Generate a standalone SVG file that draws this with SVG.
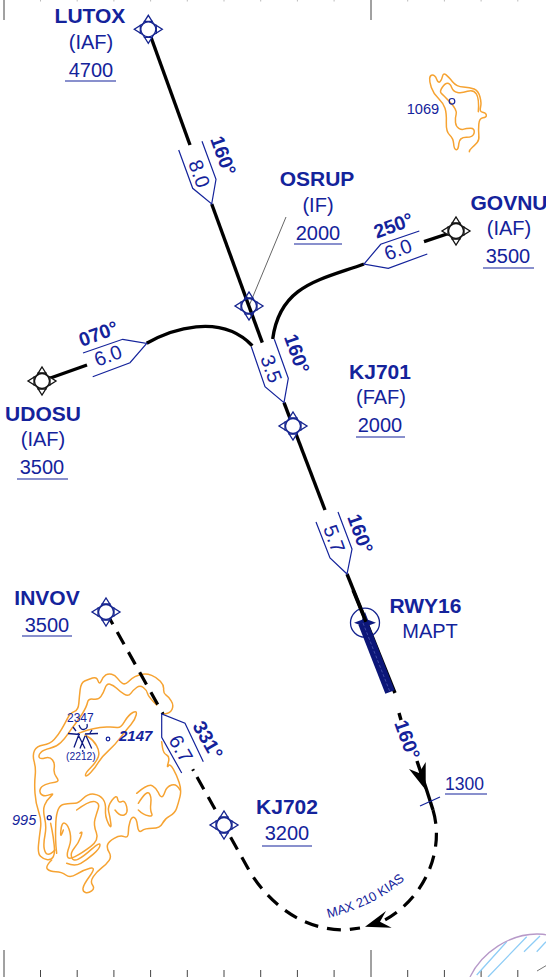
<svg xmlns="http://www.w3.org/2000/svg" width="546" height="977" viewBox="0 0 546 977">
<style>
text{font-family:"Liberation Sans",Arial,sans-serif;fill:#14239b}
.b{font-weight:bold;font-size:21px;text-anchor:middle}
.n{font-size:20px;text-anchor:middle}
.ab{font-weight:bold;font-size:19.500px}
.d{font-size:20px}
.u{stroke:#14239b;stroke-width:1.2;fill:none}
.box{stroke:#14239b;stroke-width:1.2;fill:none;stroke-linejoin:miter}
.leg{stroke:#000;stroke-width:3.4;fill:none}
.dash{stroke:#000;stroke-width:3.2;fill:none;stroke-dasharray:14 9}
.or{stroke:#f6a332;stroke-width:4.5;fill:none;stroke-linejoin:round;stroke-linecap:round}
.tick{stroke:#444;stroke-width:1}
.ttick{stroke:#bbb;stroke-width:1}
.hatch{stroke:#8fcdf6;stroke-width:1.3;fill:none}
.fix{fill:#fff;stroke:#14238f;stroke-width:1.3}
.fixk{fill:#fff;stroke:#111;stroke-width:1.3}
</style>
<defs>
<g id="flyby"><path d="M-5.4,-5.400 L0,-14 L5.400,-5.400 L14,0 L5.400,5.400 L0,14 L-5.400,5.400 L-14,0 Z"/><path d="M-4.500,-8 H4.500 M8,-4.500 V4.500 M-4.500,8 H4.500 M-8,-4.500 V4.500" fill="none"/><circle r="7.500"/></g>
</defs>
<g id="ticks">
<path class="tick" d="M4,0V20M371,0V20M4,950V977M371,950V977M40.500,970V977M77.200,970V977M113.900,970V977M150.600,970V977M187.300,970V977M224,970V977M260.700,970V977M297.400,970V977M334.100,970V977M407.700,970V977M444.400,970V977M481.100,970V977M517.800,970V977"/>
<path class="ttick" d="M40.500,0V1.500M77.200,0V1.500M113.900,0V1.500M150.600,0V1.500M187.300,0V1.500M224,0V1.500M260.700,0V1.500M297.400,0V1.500M334.100,0V1.500M407.700,0V1.500M444.400,0V1.500M481.100,0V1.500M517.800,0V1.500"/>
</g>
<g id="terrain-west" transform="translate(0,640) scale(0.3333)">
<path class="or" d="M487,222 Q510,222 516,208.500 Q522,195 513.500,182.500 Q505,170 497.500,165 Q490,160 491,147.500 Q492,135 481,123.500 Q470,112 455,106 Q440,100 427.500,102.500 Q415,105 405,110 Q395,115 385,125 Q375,135 367.500,130 Q360,125 352.500,115 Q345,105 335,102.500 Q325,100 317.500,105 Q310,110 304,122.500 Q298,135 294,122.500 Q290,110 277.500,114 Q265,118 254,123 Q243,128 240.500,149 Q238,170 236.500,190 Q235,210 222.500,215 Q210,220 202.500,235 Q195,250 185,267.500 Q175,285 162.500,298.500 Q150,312 130,315 Q110,318 103.500,331.500 Q97,345 102.500,365 Q108,385 105.500,407.500 Q103,430 105,460 Q107,490 116,515 Q125,540 121.500,565 Q118,590 115.500,615 Q113,640 121.500,649 Q130,658 142.500,659 Q155,660 160,650 Q165,640 162.500,615 Q160,590 156,570 L152,550"/>
<path class="or" d="M470,195 Q445,170 442.500,160 Q440,150 430,142.500 Q420,135 410,142.500 Q400,150 392.500,160 Q385,170 372.500,162.500 Q360,155 350,145 Q340,135 330,132.500 Q320,130 315,145 Q310,160 302.500,170 Q295,180 280,177.500 Q265,175 262.500,187.500 Q260,200 247.500,220 Q235,240 225,252.500 Q215,265 205,280 Q195,295 182.500,307.500 Q170,320 150,325 Q130,330 122.500,337.500 Q115,345 117.500,351.500 Q120,358 135,354 Q150,350 157.500,360 Q165,370 162.500,385 Q160,400 170,412.500 Q180,425 165,426.500 Q150,428 136,434 Q122,440 120,450 Q118,460 126.500,465 Q135,470 150,464 Q165,458 152.500,469 Q140,480 134,495 Q128,510 134,535 Q140,560 135,585 Q130,610 132.500,625 Q135,640 142.500,642.500 Q150,645 165,630"/>
<path class="or" d="M155,660 Q135,680 142.500,687.500 Q150,695 167.500,695 Q185,695 197.500,705 Q210,715 230,702.500 Q250,690 270,685 Q290,680 270,707.500 Q250,735 249,745 Q248,755 256.500,757.500 Q265,760 275,752.500 Q285,745 277.500,735 Q270,725 280,710 Q290,695 305,683.500 Q320,672 327.500,661 Q335,650 327.500,637.500 Q320,625 322.500,615 Q325,605 342.500,595 Q360,585 372.500,590 Q385,595 385,577.500 Q385,560 390,545 Q395,530 402.500,532.500 Q410,535 412.500,557.500 Q415,580 425,572.500 Q435,565 457.500,565 Q480,565 487.500,550 Q495,535 510,527.500 Q525,520 530,505 Q535,490 540,470 Q545,450 537.500,427.500 Q530,405 520,387.500 Q510,370 505,377.500 Q500,385 505,367.500 Q510,350 500,345 Q490,340 487.500,322.500 L485,305"/>
<path class="or" d="M235,280 Q260,270 280,266 Q300,262 320,261 Q340,260 351,262.500 Q362,265 373.500,245 Q385,225 398.500,217.500 Q412,210 408.500,225 Q405,240 392.500,254 Q380,268 362.500,291.500 Q345,315 325,332.500 Q305,350 295,367.500 Q285,385 271.500,398.500 Q258,412 256.500,406 Q255,400 272.500,382.500 Q290,365 295,350 Q300,335 290,317.500 Q280,300 267.500,292.500 L255,285"/>
<path class="or" d="M170,640 Q165,600 167.500,547.500 Q170,495 192.500,492.500 Q215,490 225,490 Q235,490 250,475 Q265,460 282.500,462.500 Q300,465 309,477.500 Q318,490 316.500,510 Q315,530 325,550 Q335,570 332.500,550 Q330,530 326,515 Q322,500 336,481 Q350,462 352.500,476 Q355,490 365,485 Q375,480 380,500 Q385,520 372.500,525 Q360,530 345,510"/>
<path class="or" d="M230,510 Q270,480 285,485 Q300,490 295,505 Q290,520 285,537.500 Q280,555 289,577.500 Q298,600 271.500,620 Q245,640 225,650 Q205,660 202.500,650 Q200,640 207.500,620 Q215,600 210,577.500 Q205,555 195,550 Q185,545 182.500,572.500 Q180,600 190,570"/>
<path class="or" d="M240,580 Q250,570 242.500,590 Q235,610 222.500,625 Q210,640 215,652.500 Q220,665 235,657.500 Q250,650 275,627.500 Q300,605 300,615 Q300,625 280,642.500 Q260,660 242.500,670 Q225,680 200,670"/>
<path class="or" d="M410,460 Q445,430 457.500,437.500 Q470,445 475,457.500 Q480,470 485,470 Q490,470 495,455 Q500,440 515,435 Q530,430 540,450 M415,490 Q440,450 447.500,460 Q455,470 452.500,490 Q450,510 455,520 Q460,530 445,527.500 Q430,525 415,510"/>
</g>
<g id="terrain-east" transform="translate(380,60) scale(0.3333)">
<path class="or" d="M268,275 Q268,270 276.500,262.500 Q285,255 291.500,247.500 Q298,240 296.500,225 Q295,210 296.500,192.500 Q298,175 309,173.500 Q320,172 319,165 Q318,158 308,156.500 Q298,155 301.500,142.500 Q305,130 300,111 Q295,92 282.500,87 Q270,82 250,81 Q230,80 217.500,65 Q205,50 197.500,44 Q190,38 187.500,49 Q185,60 180,65 Q175,70 170,57.500 Q165,45 157.500,45 Q150,45 149,55 Q148,65 154,82.500 Q160,100 175,115 Q190,130 195,145 Q200,160 199,187.500 Q198,215 209,225 Q220,235 221,251.500 Q222,268 228.500,269 Q235,270 236.500,251 Q238,232 259,232 Q280,232 282.500,218.500 Q285,205 271.500,205 Q258,205 251.500,207.500 Q245,210 236.500,205 Q228,200 226.500,187.500 Q225,175 228.500,162.500 Q232,150 211,127.500 Q190,105 184,100 Q178,95 186.500,82.500 Q195,70 202.500,70 Q210,70 215,82.500 Q220,95 232.500,97.500 Q245,100 262.500,94 Q280,88 289,101.500 Q298,115 295,155"/>
</g>
<g id="hatched-area">
<path class="hatch" d="M476.700,975 L506.700,941.700 M488,977 L526.700,936.700 M524,951.700 L540,936 M536.700,951.700 L546,941.700"/>
<path d="M470,977 C482,952 510,934 537,934 C541,934 544,934 546,935" fill="none" stroke="#b79ac9" stroke-width="1.3"/>
<path d="M537,971 L546,965.700" stroke="#777" stroke-width="1"/>
</g>
<g id="connectors">
<path d="M286,217 L249,306" stroke="#666" stroke-width="1"/>
<path class="leg" d="M148,29 L190,145"/>
<path class="leg" d="M211.700,204 L262.300,342.700"/>
<path class="leg" d="M284,402.700 L325,510"/>
<path class="leg" d="M347,574 L395,693"/>
<path class="leg" d="M399,713 L401,720 M417,761 L426,788 L433,810"/>
<path class="leg" d="M42,381 L87,365"/>
<path class="leg" d="M146.700,343.300 C170,330 220,312 252.300,345.700"/>
<path class="leg" d="M456,231 L424,241.700"/>
<path class="leg" d="M364,264 C320,280 280,285 272.700,339"/>
<path class="dash" d="M106,612 L163,714"/>
<path class="dash" d="M192.700,769.300 L193.500,770.700 M197,777 L250,872 C275,912 310,930 345,930 L360,928"/>
<path class="dash" d="M433,810 C445,850 425,900 381,922"/>
<polygon points="425.700,790 409,769 419,773 425.700,762" fill="#000"/>
<polygon points="365,926.700 386,911 380,921.700 391.700,927.700" fill="#000"/>
<path d="M420,806 L440,797" stroke="#14239b" stroke-width="1.200"/>
<path class="box" d="M178.700,150 L192.700,188.300 L211.700,204 L216,179.300 L202,141.300"/>
<path class="box" d="M251.300,346.700 L265,386.700 L284,402.700 L288.300,378.300 L274.300,339.300"/>
<path class="box" d="M316,522 L330,558 L347,574 L352,549 L338,512"/>
<path class="box" d="M83,353 L122.700,339.300 L146.700,343.300 L130,362.700 L92.700,376.700"/>
<path class="box" d="M419.300,231 L380.700,244.300 L364,264 L388.300,268.300 L427.300,254"/>
<path class="box" d="M181.700,773 L161.700,737.300 L161.700,714 L185,723.300 L203.300,761.700"/>
</g>
<g id="LUTOX"><use href="#flyby" x="148.300" y="29.300" class="fix"/>
<text class="b" x="90" y="23">LUTOX</text><text class="n" x="91" y="49">(IAF)</text><text class="n" x="91" y="77">4700</text><path class="u" d="M65,81H116"/></g>
<g id="OSRUP"><use href="#flyby" x="249" y="306" class="fix" style="fill:none"/>
<text class="b" x="317" y="186">OSRUP</text><text class="n" x="318" y="212">(IF)</text><text class="n" x="318" y="240">2000</text><path class="u" d="M294,244H342"/></g>
<g id="GOVNU"><use href="#flyby" x="456" y="231" class="fixk"/>
<text class="b" x="509" y="210">GOVNU</text><text class="n" x="509" y="235">(IAF)</text><text class="n" x="508" y="263">3500</text><path class="u" d="M483,268H534"/></g>
<g id="UDOSU"><use href="#flyby" x="42" y="381" class="fixk"/>
<text class="b" x="43" y="421">UDOSU</text><text class="n" x="43" y="446">(IAF)</text><text class="n" x="42" y="474">3500</text><path class="u" d="M17,479H68"/></g>
<g id="KJ701"><use href="#flyby" x="293" y="426" class="fix"/>
<text class="b" x="380" y="379">KJ701</text><text class="n" x="381" y="404">(FAF)</text><text class="n" x="380" y="432">2000</text><path class="u" d="M356,437H405"/></g>
<g id="INVOV"><use href="#flyby" x="106" y="612" class="fix"/>
<text class="b" x="47" y="605">INVOV</text><text class="n" x="47" y="632">3500</text><path class="u" d="M22,636H72"/></g>
<g id="KJ702"><use href="#flyby" x="224" y="825" class="fix"/>
<text class="b" x="287" y="814">KJ702</text><text class="n" x="287" y="840">3200</text><path class="u" d="M262,846H312"/></g>
<g id="RWY16">
<circle cx="365" cy="622.700" r="14.500" fill="none" stroke="#14238f" stroke-width="1.300"/>
<polygon points="365,612 368,619.700 376,622.700 368,625.700 365,633 362,625.700 354,622.700 362,619.700" fill="#0e1a80"/>
<path d="M353,590 L366,622" stroke="#000" stroke-width="3.400" fill="none"/>
<path d="M363,623 L390,692" stroke="#0c1678" stroke-width="10" fill="none"/>
<path d="M363,623 L390,692" stroke="#4a55ab" stroke-width="0.800" stroke-dasharray="3 2" fill="none"/>
<text class="b" x="425.500" y="613">RWY16</text><text class="n" x="430" y="638">MAPT</text>
</g>
<g id="labels">
<text class="ab" transform="translate(210,139) rotate(70)">160°</text>
<text class="d" transform="translate(188,163) rotate(70)">8.0</text>
<text class="ab" transform="translate(283.700,337) rotate(70)">160°</text>
<text class="d" transform="translate(260,358) rotate(70)">3.5</text>
<text class="ab" transform="translate(347,517) rotate(70)">160°</text>
<text class="d" transform="translate(323,528) rotate(70)">5.7</text>
<text class="ab" transform="translate(81.700,347) rotate(-20)">070°</text>
<text class="d" transform="translate(97.300,366.700) rotate(-20)">6.0</text>
<text class="ab" transform="translate(376.700,238.700) rotate(-20)">250°</text>
<text class="d" transform="translate(387.300,260.700) rotate(-20)">6.0</text>
<text class="ab" transform="translate(192,726) rotate(60)">331°</text>
<text class="d" transform="translate(168,740) rotate(60)">6.7</text>
<text class="ab" transform="translate(394,723) rotate(70)">160°</text>
<text x="445" y="790" font-size="17.500">1300</text>
<path class="u" d="M445,794H487"/>
<path id="maxpath" d="M328,918 Q380,905 412,873" fill="none"/>
<text font-size="13"><textPath href="#maxpath">MAX 210 KIAS</textPath></text>
</g>
<g id="obstacles">
<circle cx="452" cy="101.300" r="2.800" fill="none" stroke="#14239b" stroke-width="1.200"/>
<text x="406.700" y="114" font-size="14.600">1069</text>
<circle cx="49.300" cy="817.700" r="2" fill="none" stroke="#14239b" stroke-width="1.300"/>
<text x="12" y="825" font-size="14.500" font-style="italic">995</text>
<circle cx="108" cy="739" r="1.800" fill="none" stroke="#14239b" stroke-width="1.200"/>
<text x="119" y="741" font-size="15" font-weight="bold" font-style="italic">2147</text>
<text x="67" y="722" font-size="12">2347</text>
<text x="66" y="760" font-size="10.300">(2212)</text>
<path d="M68,733.500 L80,734.500 M85,734 L98,733.500 M78.300,736 L74,747.500 M78.300,735 L85,748.500 M85,736 L80,748.500 M86,735.700 L91.700,748.500 M73,727 L76,731 M92,730 L90,733 M79,725 Q81,731 85,729 Q88,728 87,724" stroke="#0e1a80" stroke-width="1.300" fill="none"/>
<circle cx="82.700" cy="751" r="0.900" fill="#14239b"/>
<circle cx="78.300" cy="734" r="0.900" fill="#14239b"/>
</g>
</svg>
